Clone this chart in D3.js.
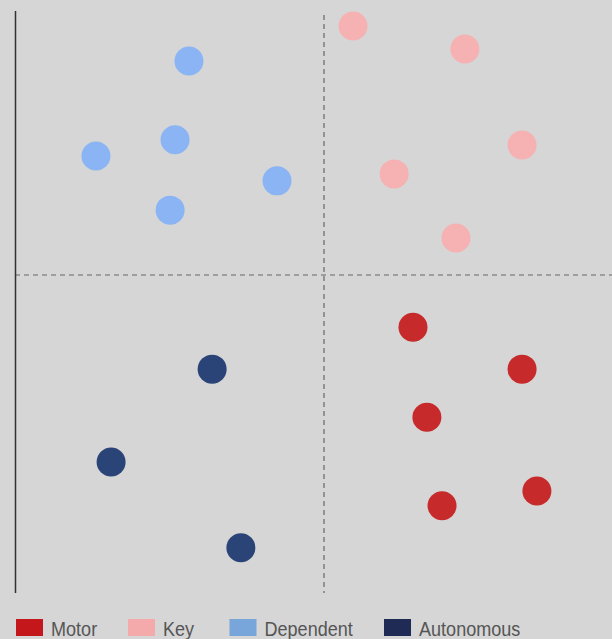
<!DOCTYPE html>
<html>
<head>
<meta charset="utf-8">
<script src="https://cdn.jsdelivr.net/npm/d3@7"></script>
<style>
html,body{margin:0;padding:0;background:#d6d6d6;}
svg{display:block;}
</style>
</head>
<body>
<svg id="chart" width="612" height="639"></svg>
<script>
// Data
const categories = ["Motor", "Key", "Dependent", "Autonomous"];
const motorX = [0.288, 0.641, 0.333, 0.689, 0.382];
const motorY = [-0.164, -0.296, -0.447, -0.679, -0.726];
const keyX = [0.094, 0.456, 0.641, 0.227, 0.427];
const keyY = [0.783, 0.711, 0.409, 0.318, 0.116];
const dependentX = [-0.437, -0.482, -0.738, -0.152, -0.498];
const dependentY = [0.673, 0.425, 0.374, 0.296, 0.204];
const autonomousX = [-0.362, -0.689, -0.269];
const autonomousY = [-0.296, -0.588, -0.858];

const dotColors = {Motor:"#c62a2a", Key:"#f6b2b2", Dependent:"#8ab4f4", Autonomous:"#2a4478"};
const legendColors = {Motor:"#c3171b", Key:"#f4a9ab", Dependent:"#78a6da", Autonomous:"#1f2a55"};

const seriesX = {Motor:motorX, Key:keyX, Dependent:dependentX, Autonomous:autonomousX};
const seriesY = {Motor:motorY, Key:keyY, Dependent:dependentY, Autonomous:autonomousY};

const svg = d3.select("#chart");
svg.append("rect").attr("width",612).attr("height",639).attr("fill","#d6d6d6");

const x = d3.scaleLinear().domain([-1,1]).range([15,633]);
const y = d3.scaleLinear().domain([-1,1]).range([593,-43]);

// quadrant dashed lines
svg.append("line")
  .attr("x1", x(0)).attr("x2", x(0))
  .attr("y1", 15).attr("y2", 593)
  .attr("stroke","#666").attr("stroke-width",1.2).attr("stroke-dasharray","5,4");
svg.append("line")
  .attr("x1", 15).attr("x2", 612)
  .attr("y1", y(0)).attr("y2", y(0))
  .attr("stroke","#666").attr("stroke-width",1.2).attr("stroke-dasharray","5,4");

// left axis line
svg.append("line")
  .attr("x1", 15.5).attr("x2", 15.5)
  .attr("y1", 11).attr("y2", 593)
  .attr("stroke","#333").attr("stroke-width",1.5);

// points
const points = [];
categories.forEach(c => {
  seriesX[c].forEach((vx,i) => points.push({cat:c, x:vx, y:seriesY[c][i]}));
});
svg.append("g").selectAll("circle").data(points).enter().append("circle")
  .attr("cx", d => x(d.x)).attr("cy", d => y(d.y)).attr("r", 14.5)
  .attr("fill", d => dotColors[d.cat]);

// legend
const legendX = [16, 128, 229.5, 384];
const lg = svg.append("g");
categories.forEach((c,i) => {
  const g = lg.append("g").attr("transform", `translate(${legendX[i]},619)`);
  g.append("rect").attr("width",27).attr("height",17).attr("fill",legendColors[c]);
  g.append("text").attr("transform","translate(35,16.5) scale(0.86,1)")
    .attr("font-family","'Liberation Sans', Arial, sans-serif")
    .attr("font-size",21).attr("fill","#555").text(c);
});
</script>
</body>
</html>
